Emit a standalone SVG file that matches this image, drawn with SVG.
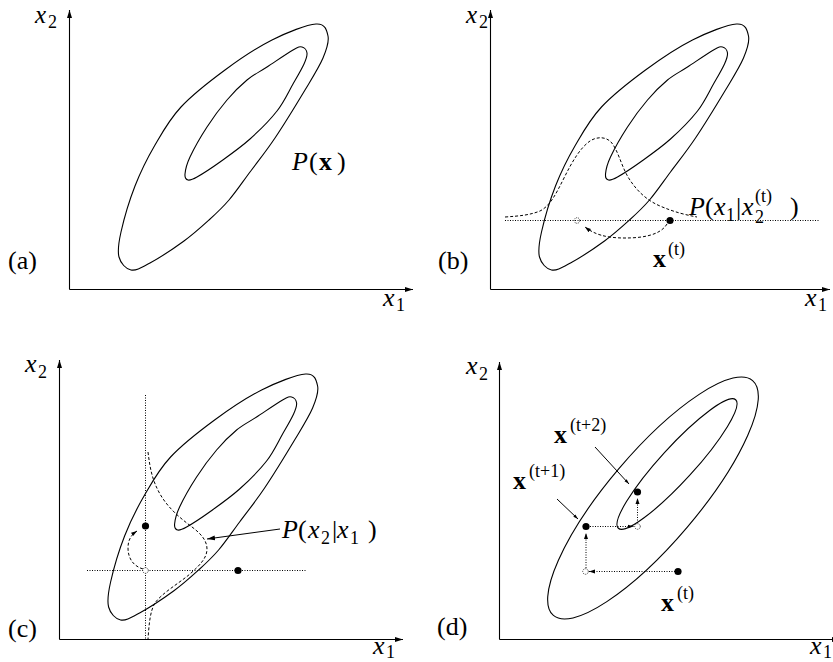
<svg xmlns="http://www.w3.org/2000/svg" width="833" height="662" viewBox="0 0 833 662" font-family="'Liberation Serif', 'Times New Roman', serif">
<style>
.c{fill:none;stroke:#000;stroke-width:1.1}
.ax{fill:none;stroke:#000;stroke-width:1.1;marker-end:url(#ah)}
.dash{fill:none;stroke:#000;stroke-width:1;stroke-dasharray:3 2}
.dot{fill:none;stroke:#000;stroke-width:1;stroke-dasharray:1 1.5}
.ptr{fill:none;stroke:#000;stroke-width:1}
.fd{fill:#000}
.od{fill:#fff;stroke:#000;stroke-width:0.8;stroke-dasharray:1 1}
text{font-family:'Liberation Serif','Times New Roman',serif;fill:#000}
.m{font-size:26px}
.t{font-size:25px}
.s{font-size:18px}
.i{font-style:italic}
.b{font-weight:bold}
</style>
<defs>
<marker id="ah" markerWidth="9" markerHeight="6" refX="8" refY="3" orient="auto" markerUnits="userSpaceOnUse"><path d="M0,0.5 L8,3 L0,5.5 z" fill="#000"/></marker>
<marker id="sa" markerWidth="7" markerHeight="5" refX="6" refY="2.5" orient="auto" markerUnits="userSpaceOnUse"><path d="M0,0.5 L6,2.5 L0,4.5 z" fill="#000"/></marker>
<marker id="ta" markerWidth="6" markerHeight="4" refX="5" refY="2" orient="auto" markerUnits="userSpaceOnUse"><path d="M0,0.5 L5,2 L0,3.5 z" fill="#000"/></marker>
<path id="outer" d="M131,270 C125.83,269 120.67,263.33 119,257 C117.33,250.67 118.33,243.83 121,232 C123.67,220.17 129.33,200.5 135,186 C140.67,171.5 147.33,158.17 155,145 C162.67,131.83 169.33,119.5 181,107 C192.67,94.5 209.83,81.17 225,70 C240.17,58.83 256.83,47.67 272,40 C287.17,32.33 306.67,24.67 316,24 C325.33,23.33 326.83,30.33 328,36 C329.17,41.67 326.83,49 323,58 C319.17,67 313,76.67 305,90 C297,103.33 284.17,124.33 275,138 C265.83,151.67 257.67,161.67 250,172 C242.33,182.33 235.83,192 229,200 C222.17,208 216.5,213.17 209,220 C201.5,226.83 193.83,233.83 184,241 C174.17,248.17 158.83,258.17 150,263 C141.17,267.83 136.17,271 131,270 Z"/>
<path id="inner" d="M188,180 C186,179.5 184.67,177.83 185,174 C185.33,170.17 186.33,164.83 190,157 C193.67,149.17 200.83,136.5 207,127 C213.17,117.5 220.33,107.83 227,100 C233.67,92.17 240.33,85.5 247,80 C253.67,74.5 259.33,72 267,67 C274.67,62 287.17,53.33 293,50 C298.83,46.67 299.67,46.5 302,47 C304.33,47.5 306.67,50.17 307,53 C307.33,55.83 306.33,58.83 304,64 C301.67,69.17 297.5,76.17 293,84 C288.5,91.83 284.17,101.83 277,111 C269.83,120.17 259.5,130.5 250,139 C240.5,147.5 228.83,155.67 220,162 C211.17,168.33 202.33,174 197,177 C191.67,180 190,180.5 188,180 Z"/>
</defs>
<rect width="833" height="662" fill="#fff"/>

<g id="panel-a">
  <path class="ax" d="M69.5,289.5 V10"/>
  <path class="ax" d="M69.5,289.5 H413"/>
  <use href="#outer" class="c"/>
  <use href="#inner" class="c"/>
  <text class="t i" x="35" y="23">x</text><text class="s" x="48" y="28">2</text>
  <text class="m i" x="383" y="306">x</text><text class="s" x="396" y="311">1</text>
  <text class="m" x="8" y="269">(a)</text>
  <text class="m" y="170"><tspan class="i" x="292">P</tspan><tspan x="309">(</tspan><tspan class="b" x="319">x</tspan><tspan x="337">)</tspan></text>
</g>

<g id="panel-b">
  <path class="ax" d="M490.5,289.5 V10"/>
  <path class="ax" d="M490.5,289.5 H830"/>
  <use href="#outer" class="c" transform="translate(420.5,0)"/>
  <use href="#inner" class="c" transform="translate(420.5,0)"/>
  <text class="t i" x="466" y="23">x</text><text class="s" x="479" y="28">2</text>
  <text class="m i" x="805" y="306">x</text><text class="s" x="818" y="311">1</text>
  <text class="m" x="438" y="269">(b)</text>
  <text class="m" y="215"><tspan class="i" x="689">P</tspan><tspan x="705">(</tspan><tspan class="i" x="714">x</tspan><tspan x="736">|</tspan><tspan class="i" x="742">x</tspan><tspan x="790">)</tspan></text>
  <text class="s" x="726" y="221">1</text>
  <text class="s" x="755" y="223">2</text>
  <text class="s" x="755" y="202">(t)</text>
  <text class="m b" x="653" y="267">x</text><text class="s" x="668" y="255">(t)</text>
  <circle class="od" cx="577" cy="220.5" r="2.8"/>
  <circle class="fd" cx="670" cy="220.5" r="3.6"/>
</g>

<g id="panel-c">
  <path class="ax" d="M59.5,639.5 V360"/>
  <path class="ax" d="M59.5,639.5 H403"/>
  <use href="#outer" class="c" transform="translate(-10.4,350)"/>
  <use href="#inner" class="c" transform="translate(-10.4,350)"/>
  <text class="m i" x="25" y="372">x</text><text class="s" x="38" y="378">2</text>
  <text class="m i" x="373" y="654">x</text><text class="s" x="386" y="658">1</text>
  <text class="m" x="8" y="637">(c)</text>
  <text class="m" y="538"><tspan class="i" x="282">P</tspan><tspan x="298">(</tspan><tspan class="i" x="308">x</tspan><tspan x="332">|</tspan><tspan class="i" x="337">x</tspan><tspan x="368">)</tspan></text>
  <text class="s" x="321" y="544">2</text>
  <text class="s" x="350" y="544">1</text>
</g>

<g id="panel-d">
  <path class="ax" d="M499.5,639.5 V362"/>
  <path class="ax" d="M499.5,639.5 H840"/>
  <ellipse class="c" cx="653" cy="498" rx="154" ry="45" transform="rotate(-49.7 653 498)"/>
  <ellipse class="c" cx="677" cy="464" rx="87" ry="17" transform="rotate(-47.6 677 464)"/>
  <text class="m i" x="466" y="374">x</text><text class="s" x="479" y="380">2</text>
  <text class="m i" x="810" y="654">x</text><text class="s" x="823" y="658">1</text>
  <text class="m" x="437" y="635">(d)</text>
  <text class="m b" x="554" y="443">x</text><text class="s" x="570" y="431">(t+2)</text>
  <text class="m b" x="513" y="489">x</text><text class="s" x="529" y="477">(t+1)</text>
  <text class="m b" x="661" y="611">x</text><text class="s" x="677" y="599">(t)</text>
</g>

<g id="connectors">
  <path class="dot" d="M505,220.5 H820"/>
  <path class="dash" d="M505,217 C520,216 530,215 540,211 C550,206 556,194 564,178 C572,162 580,148 590,141 C596,137 605,136 611,142 C618,150 621,165 628,177 C636,190 646,200 660,206 C674,212 686,215 697,217"/>
  <path class="dash" marker-end="url(#sa)" d="M667,224 C660,236 640,238 625,238 C605,238 594,234 585,227"/>

  <path class="dot" d="M145.5,395 V639"/>
  <path class="dot" d="M87,570.5 H307"/>
  <path class="dash" d="M148,452 C150,468 152,480 160,494 C168,508 180,518 192,527 C200,533 207,540 207,549 C207,558 200,565 190,574 C178,584 162,593 155,603 C150,611 149,625 148,639"/>
  <path class="dash" marker-end="url(#sa)" d="M143,569 C133,566 128,558 128,548 C128,540 131,535 137,531"/>
  <path class="ptr" marker-end="url(#ah)" d="M280,529 L207,539"/>

  <path class="dot" marker-end="url(#sa)" d="M675,571.5 H589"/>
  <path class="dot" marker-end="url(#sa)" d="M586,568 V533"/>
  <path class="dot" marker-end="url(#sa)" d="M590,526.5 H633.5"/>
  <path class="dot" marker-end="url(#sa)" d="M637.5,523 V498"/>
  <path class="ptr" marker-end="url(#ta)" d="M595,447 L629,484"/>
  <path class="ptr" marker-end="url(#ta)" d="M557,499 L578,519"/>
</g>

<g id="points">
  <circle class="fd" cx="145.5" cy="526" r="3.6"/>
  <circle class="fd" cx="238" cy="570.5" r="3.6"/>
  <circle class="od" cx="145.5" cy="570.5" r="2.8"/>
  <circle class="fd" cx="678" cy="571.5" r="3.6"/>
  <circle class="od" cx="585.5" cy="571.5" r="2.8"/>
  <circle class="fd" cx="586" cy="526.5" r="3.6"/>
  <circle class="od" cx="637.5" cy="526.5" r="2.8"/>
  <circle class="fd" cx="637.5" cy="492" r="3.6"/>
</g>
</svg>
